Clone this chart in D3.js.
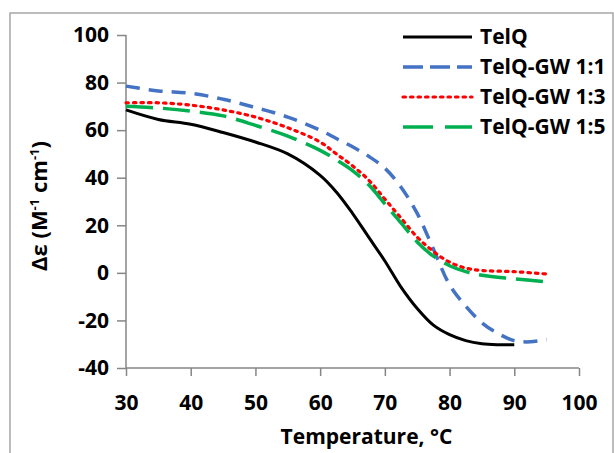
<!DOCTYPE html>
<html>
<head>
<meta charset="utf-8">
<script src="https://cdn.jsdelivr.net/npm/d3@7"></script>
<style>
  body { margin: 0; background: #fff; }
  svg { display: block; font-family: "Open Sans", sans-serif; font-weight: bold; }
</style>
</head>
<body>
<svg id="chart" width="614" height="453"></svg>
<script>
// temperature (°C) grid per series, Δε values
const tempTelQ = [30, 35, 40, 45, 50, 55, 60, 62.5, 65, 67.5, 70, 72.5, 75, 77.5, 80, 82.5, 85, 87.5, 90];
const valTelQ  = [68.5, 64.5, 62.5, 59, 55, 50, 41, 34, 25, 15, 5, -6, -15, -22, -26, -28.5, -29.8, -30.2, -30.2];

const temp11 = [30, 35, 40, 45, 50, 55, 60, 62.5, 65, 67.5, 70, 72.5, 75, 77.5, 80, 82.5, 85, 87.5, 90, 92.5, 95];
const val11  = [78.5, 76.5, 75.5, 73, 69.5, 65.5, 60, 56.5, 53, 49, 44, 36, 25, 10, -5, -14, -21, -25.5, -28.5, -29, -28];

const temp13 = [30, 35, 40, 45, 50, 55, 60, 62.5, 65, 67.5, 70, 72.5, 75, 77.5, 80, 82.5, 85, 90, 95];
const val13  = [71.5, 71.5, 70.5, 68.5, 65.5, 61, 55, 50, 45, 39, 31, 23, 15, 9, 4.5, 2, 1, 0.5, -0.5];

const temp15 = [30, 35, 40, 45, 50, 55, 60, 62.5, 65, 67.5, 70, 72.5, 75, 77.5, 80, 82.5, 85, 90, 95];
const val15  = [70, 69.3, 68, 66, 62, 57.5, 51.5, 47.5, 43, 37, 29, 21, 13, 7, 3, 0.5, -1, -2.5, -3.8];

const seriesNames = ["TelQ", "TelQ-GW 1:1", "TelQ-GW 1:3", "TelQ-GW 1:5"];
const xTicks = [30, 40, 50, 60, 70, 80, 90, 100];
const yTicks = [-40, -20, 0, 20, 40, 60, 80, 100];

const series = [
  { name: seriesNames[0], t: tempTelQ, v: valTelQ, color: "#000000", dash: null, width: 3 },
  { name: seriesNames[1], t: temp11, v: val11, color: "#4472C4", dash: "14,9", width: 3.5 },
  { name: seriesNames[2], t: temp13, v: val13, color: "#FF0000", dash: "2.5,5", width: 3.2 },
  { name: seriesNames[3], t: temp15, v: val15, color: "#00B050", dash: "27,10", width: 3.5 }
];

const svg = d3.select("#chart");

// outer frame
svg.append("rect")
  .attr("x", 10).attr("y", 13)
  .attr("width", 603).attr("height", 460)
  .attr("fill", "none")
  .attr("stroke", "#a6a6a6")
  .attr("stroke-width", 1.5);

const x = d3.scaleLinear().domain([30, 100]).range([126, 579]);
const y = d3.scaleLinear().domain([-40, 100]).range([368, 35]);

const axisColor = "#868686";
const fmt = d => String(d); // plain hyphen minus like the original

// y axis
const yAxis = svg.append("g")
  .attr("transform", `translate(${x(30)},0)`)
  .call(d3.axisLeft(y).tickValues(yTicks).tickSize(9).tickPadding(8).tickFormat(fmt));
// x axis
const xAxis = svg.append("g")
  .attr("transform", `translate(0,${y(-40)})`)
  .call(d3.axisBottom(x).tickValues(xTicks).tickSize(8).tickPadding(22).tickFormat(fmt));

[yAxis, xAxis].forEach(a => {
  a.selectAll("path").attr("stroke", axisColor).attr("stroke-width", 1.5);
  a.selectAll("line").attr("stroke", axisColor).attr("stroke-width", 1.5);
  a.selectAll("text")
    .attr("fill", "#000")
    .style("font-family", "'Open Sans', sans-serif")
    .style("font-weight", "bold")
    .style("font-size", "21px");
});
xAxis.select(".domain").attr("d", `M${x(30)},0H${x(100)}`);
yAxis.select(".domain").attr("d", `M0,${y(-40)}V${y(100)}`);
xAxis.selectAll(".tick text").attr("dy", "0.35em").attr("y", 35);

// axis titles
svg.append("text")
  .attr("x", (x(30) + x(100)) / 2 + 14)
  .attr("y", 444)
  .attr("text-anchor", "middle")
  .style("font-size", "21px")
  .text("Temperature, °C");

const yTitle = svg.append("text")
  .attr("transform", "translate(47,206) rotate(-90)")
  .attr("text-anchor", "middle")
  .style("font-size", "22px");
yTitle.append("tspan").text("Δε (M");
yTitle.append("tspan").attr("dy", -8).style("font-size", "13px").text("-1");
yTitle.append("tspan").attr("dy", 8).text(" cm");
yTitle.append("tspan").attr("dy", -8).style("font-size", "13px").text("-1");
yTitle.append("tspan").attr("dy", 8).text(")");

// curves
const line = d3.line()
  .x(d => x(d[0]))
  .y(d => y(d[1]))
  .curve(d3.curveCatmullRom.alpha(0.5));

svg.append("g").selectAll("path")
  .data(series)
  .join("path")
  .attr("d", s => line(s.t.map((t, i) => [t, s.v[i]])))
  .attr("fill", "none")
  .attr("stroke", s => s.color)
  .attr("stroke-width", s => s.width)
  .attr("stroke-dasharray", s => s.dash)
  .attr("stroke-linecap", s => s.dash === "2.5,5" ? "round" : "butt");

// legend
const legend = svg.append("g").selectAll("g")
  .data(series)
  .join("g")
  .attr("transform", (d, i) => `translate(403,${37 + i * 30})`);

legend.append("line")
  .attr("x1", 0).attr("x2", 69)
  .attr("stroke", d => d.color)
  .attr("stroke-width", d => d.width)
  .attr("stroke-dasharray", d => d.dash === "27,10" ? "30,12" : d.dash === "14,9" ? "20,7" : d.dash)
  .attr("stroke-linecap", d => d.dash === "2.5,5" ? "round" : "butt");

legend.append("text")
  .attr("x", 77)
  .attr("dy", "0.35em")
  .style("font-size", "21px")
  .text(d => d.name);
</script>
</body>
</html>
